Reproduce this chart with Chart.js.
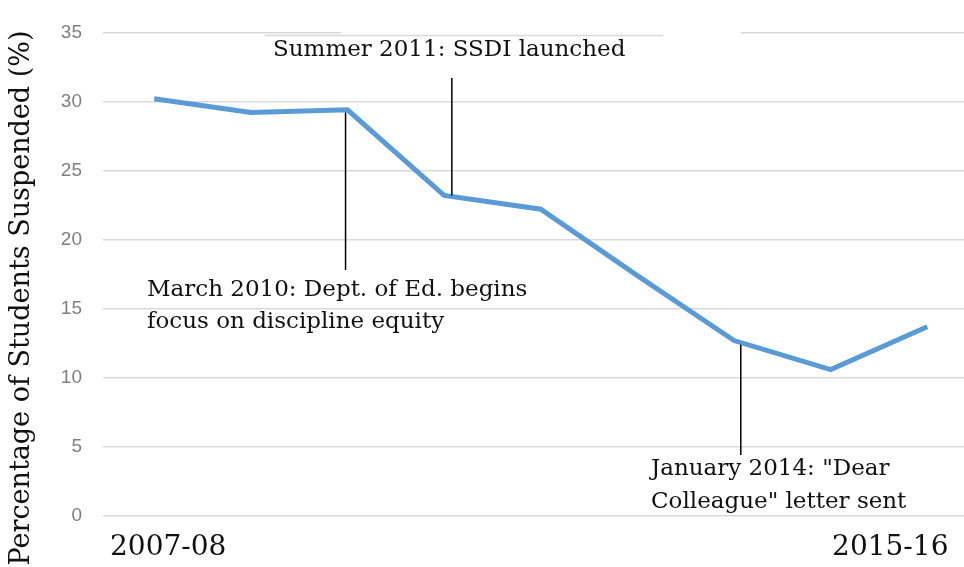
<!DOCTYPE html>
<html>
<head>
<meta charset="utf-8">
<script src="https://cdn.jsdelivr.net/npm/chart.js@4.4.0/dist/chart.umd.min.js"></script>
<style>
  html,body{margin:0;padding:0;background:#fff;}
  #wrap{width:964px;height:567px;position:relative;}
</style>
</head>
<body>
<div id="wrap"><canvas id="chart" width="964" height="567"></canvas></div>
<script>
/* ---------- DATA ---------- */
const years = ['2007-08','2008-09','2009-10','2010-11','2011-12','2012-13','2013-14','2014-15','2015-16'];
const suspended = [30.2, 29.2, 29.4, 23.2, 22.2, 17.4, 12.7, 10.6, 13.7];
const yTicks = [0, 5, 10, 15, 20, 25, 30, 35];
const yTitle = 'Percentage of Students Suspended (%)';

const noteMarch = ['March 2010: Dept. of Ed. begins','focus on discipline equity'];
const noteSummer = ['Summer 2011: SSDI launched'];
const noteJan = ['January 2014: "Dear','Colleague" letter sent'];

const SERIF = '"DejaVu Serif", "Liberation Serif", serif';

/* ---------- PLUGIN: labels, annotations ---------- */
const extras = {
  id:'extras',
  afterDraw(chart){
    const {ctx, scales:{x, y}} = chart;
    const top = y.getPixelForValue(35);
    ctx.save();

    // broken top gridline (pasted title in original)
    ctx.fillStyle = '#fff';
    ctx.fillRect(341, top-2, 400, 4);
    ctx.strokeStyle = '#d9d9d9'; ctx.lineWidth = 1.5;
    ctx.beginPath(); ctx.moveTo(265, top+3); ctx.lineTo(663, top+3); ctx.stroke();

    // annotation callouts
    ctx.strokeStyle = '#000'; ctx.lineWidth = 1.5;
    ctx.fillStyle = '#111';
    ctx.font = '23px ' + SERIF;
    ctx.textBaseline = 'middle';
    ctx.textAlign = 'left';
    // March 2010
    let px = x.getPixelForValue(1.98);
    ctx.beginPath(); ctx.moveTo(px, y.getPixelForValue(29.2)); ctx.lineTo(px, 270); ctx.stroke();
    ctx.fillText(noteMarch[0], 147, 290);
    ctx.fillText(noteMarch[1], 147, 322);
    // Summer 2011
    px = x.getPixelForValue(3.08);
    ctx.beginPath(); ctx.moveTo(px, 78); ctx.lineTo(px, y.getPixelForValue(23.2)); ctx.stroke();
    ctx.fillText(noteSummer[0], 273, 50);
    // January 2014
    px = x.getPixelForValue(6.07);
    ctx.beginPath(); ctx.moveTo(px, y.getPixelForValue(12.4)); ctx.lineTo(px, 455); ctx.stroke();
    ctx.fillText(noteJan[0], 651, 469);
    ctx.fillText(noteJan[1], 651, 502);

    // x labels (first and last only)
    ctx.font = '28px ' + SERIF;
    ctx.textAlign = 'center';
    ctx.fillText(years[0], x.getPixelForValue(0)+14, 548);
    ctx.fillText(years[years.length-1], x.getPixelForValue(8)-37, 548);

    // y title
    ctx.translate(22, 298);
    ctx.rotate(-Math.PI/2);
    ctx.font = '27px ' + SERIF;
    ctx.fillText(yTitle, 0, 0);
    ctx.restore();
  }
};

/* ---------- CHART ---------- */
new Chart(document.getElementById('chart'), {
  type:'line',
  data:{
    datasets:[{
      data: suspended.map((v,i)=>({x:i, y:v})),
      borderColor:'#5b9bd5',
      borderWidth:5,
      pointRadius:0,
      tension:0,
      fill:false
    }]
  },
  options:{
    responsive:false,
    animation:false,
    layout:{padding:{top:30, bottom:51, left:0, right:0}},
    plugins:{legend:{display:false}, tooltip:{enabled:false}},
    scales:{
      x:{type:'linear', min:-0.53, max:8.38, display:false},
      y:{
        min:0, max:35,
        afterFit(s){ s.width = 103; },
        afterBuildTicks(s){ s.ticks = yTicks.map(v=>({value:v})); },
        border:{display:false},
        grid:{color:'#d9d9d9', lineWidth:1.5, drawTicks:false},
        ticks:{color:'#7f7f7f', padding:21, font:{family:'"Liberation Sans", Arial, sans-serif', size:19}}
      }
    }
  },
  plugins:[extras]
});
</script>
</body>
</html>
